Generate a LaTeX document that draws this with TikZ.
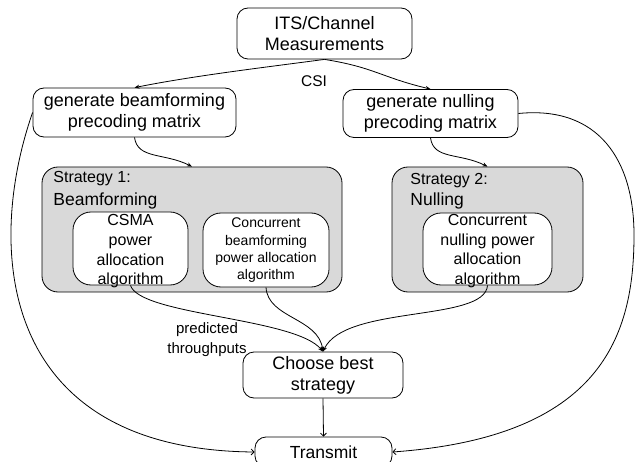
\documentclass[tikz,border=0pt]{standalone}
\usepackage{fontspec}
\setmainfont{Liberation Sans}
\usetikzlibrary{arrows.meta}
\definecolor{boxgray}{HTML}{D9D9D9}
\begin{document}
\begin{tikzpicture}[x=1pt,y=-1pt, line width=0.8pt,
  box/.style={draw, rounded corners=11pt, fill=white, align=center, inner sep=0pt},
  strat/.style={draw, rounded corners=16pt, fill=boxgray, inner sep=0pt},
  inbox/.style={draw, rounded corners=18pt, fill=white, inner sep=0pt},
  lbl/.style={inner sep=0pt, align=center},
  arr/.style={-{Stealth[length=5pt,width=4pt]}},
  barb/.style={-{Straight Barb[length=3pt,width=6pt]}}]
\useasboundingbox (0,0) rectangle (636,462);

\node[box, minimum width=175pt, minimum height=51pt, font=\fontsize{18}{21}\selectfont] (its) at (324.5,33.5) {ITS/Channel\\Measurements};
\node[box, minimum width=203pt, minimum height=49pt, font=\fontsize{18}{21}\selectfont] (gb) at (134.5,112.5) {generate beamforming\\precoding matrix};
\node[box, minimum width=175pt, minimum height=48pt, font=\fontsize{18}{21}\selectfont] (gn) at (430.5,113.5) {generate nulling\\precoding matrix};
\node[lbl, font=\fontsize{15.5}{18}\selectfont] (csi) at (314,81) {CSI};

\node[strat, minimum width=300pt, minimum height=125pt] (s1) at (192,229.5) {};
\node[strat, minimum width=191pt, minimum height=125pt] (s2) at (487.5,229.5) {};
\node[lbl, anchor=base west, font=\fontsize{16}{19}\selectfont] (s1a) at (53,183) {Strategy 1:};
\node[lbl, anchor=base west, font=\fontsize{17.5}{21}\selectfont] (s1b) at (53,205) {Beamforming};
\node[lbl, anchor=base west, font=\fontsize{16}{19}\selectfont] (s2a) at (410,185) {Strategy 2:};
\node[lbl, anchor=base west, font=\fontsize{17.5}{21}\selectfont] (s2b) at (410,206) {Nulling};

\node[inbox, minimum width=115pt, minimum height=73pt] (csma) at (130.5,248.5) {};
\node[lbl, font=\fontsize{16}{19.7}\selectfont] (csmat) at (130.5,251.5) {CSMA\\power\\allocation\\algorithm};
\node[inbox, minimum width=126pt, minimum height=74pt] (cb) at (266,250) {};
\node[lbl, font=\fontsize{14}{17.3}\selectfont] (cbt) at (266,250.5) {Concurrent\\beamforming\\power allocation\\algorithm};
\node[inbox, minimum width=129pt, minimum height=72pt] (cn) at (487.5,249) {};
\node[lbl, font=\fontsize{16}{19.5}\selectfont] (cnt) at (487.5,251) {Concurrent\\nulling power\\allocation\\algorithm};

\node[box, minimum width=160pt, minimum height=46pt, font=\fontsize{18}{21}\selectfont] (ch) at (323,375) {Choose best\\strategy};
\node[box, minimum width=137pt, minimum height=30pt, font=\fontsize{17.5}{21}\selectfont] (tr) at (323.5,452) {Transmit};
\node[lbl, font=\fontsize{15}{20}\selectfont] (pt) at (207,340) {predicted\\throughputs};

\coordinate (rc) at (634,235);

\draw[arr] (its.south) .. controls +(-60,8) and +(60,-12) .. (gb.north);
\draw[arr] (its.south) .. controls +(50,8) and +(-50,-12) .. (gn.north);
\draw[arr] (gb.south) .. controls +(3,22) and +(-28,-14) .. (s1.north);
\draw[arr] (gn.south) .. controls +(3,22) and +(-28,-14) .. (s2.north);
\draw[barb] (gb.west) .. controls +(-48,137.5) and +(-255,-2) .. (tr.west);
\draw[barb] (gn.east) .. controls +(80,-8) and +(0,-75) .. (rc) .. controls +(0,100) and +(210,-15) .. (tr.east);
\draw[arr] (csma.south) .. controls +(9.5,30) and +(-28,-34) .. (ch.north);
\draw[arr] (cb.south) .. controls +(2,31) and +(-5,-34) .. (ch.north);
\draw[arr] (cn.south) .. controls +(-2.5,37) and +(22,-47) .. (ch.north);
\draw[barb] (ch.south) -- (tr.north);
\end{tikzpicture}
\end{document}
